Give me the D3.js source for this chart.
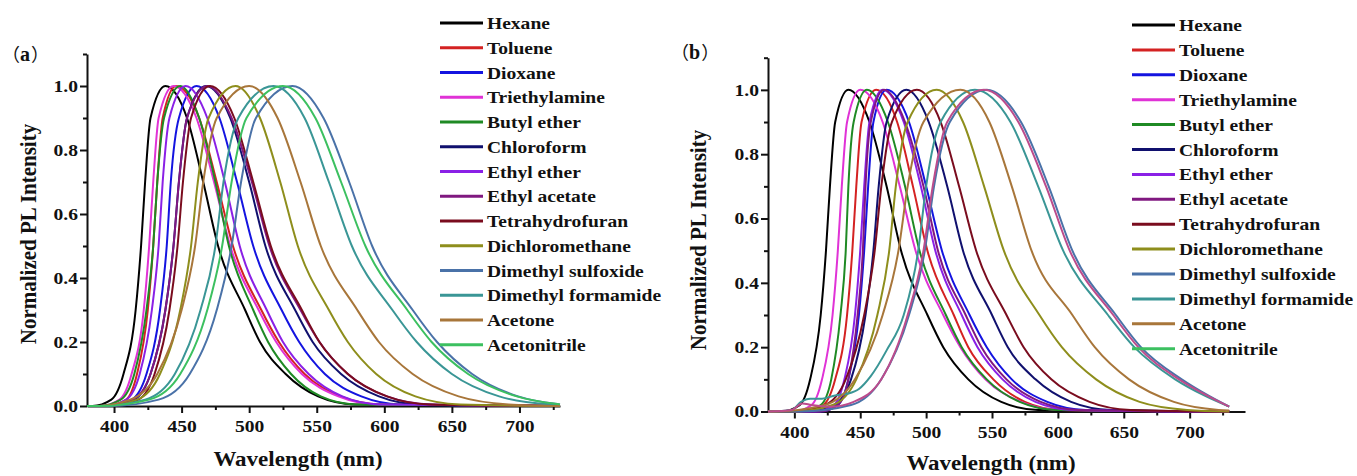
<!DOCTYPE html>
<html lang="en">
<head>
<meta charset="UTF-8">
<title>Normalized PL spectra in solvents</title>
<script src="https://cdn.jsdelivr.net/npm/d3@7"></script>
<style>
  body { margin: 0; background: #fff; }
  svg text { font-family: "Liberation Serif", "Times New Roman", serif; font-weight: bold; fill: #111; }
  svg .cjk { font-family: "Noto Sans CJK SC", sans-serif; font-weight: normal; }
</style>
</head>
<body>
<script>
// solvents, in legend order
const solvents = ["Hexane", "Toluene", "Dioxane", "Triethylamine", "Butyl ether", "Chloroform",
    "Ethyl ether", "Ethyl acetate", "Tetrahydrofuran", "Dichloromethane", "Dimethyl sulfoxide",
    "Dimethyl formamide", "Acetone", "Acetonitrile"]

const colors = ["#000000", "#d42222", "#1414e0", "#e032d6", "#1f8a24", "#10106e", "#8a20e6",
    "#801880", "#7a0c1e", "#8e8e1c", "#4a72a8", "#3a9696", "#a8763a", "#3cc060"]

// in (b) the acetonitrile trace is plotted in a rose colour
const curveColorsB = ["#000000", "#d42222", "#1414e0", "#e032d6", "#1f8a24", "#10106e", "#8a20e6",
    "#801880", "#7a0c1e", "#8e8e1c", "#4a72a8", "#3a9696", "#a8763a", "#bc4c8c"]

const xTicks = [400, 450, 500, 550, 600, 650, 700]
const xMinor = [425, 475, 525, 575, 625, 675, 725]
const yTicks = [0, 0.2, 0.4, 0.6, 0.8, 1.0]
const yMinor = [0.1, 0.3, 0.5, 0.7, 0.9, 1.1]

// [wavelength nm, normalized intensity]
const curvesA = [
    [[380,0],[384,0],[398,0.02],[407,0.1],[416,0.3],[420,0.5],[423,0.7],[427,0.9],[438,1],[454,0.9],[466,0.7],[477,0.5],[497,0.3],[508,0.2],[527,0.1],[551,0.03],[578,0.005],[730,0]],
    [[380,0],[395,0],[409,0.02],[417,0.1],[425,0.3],[429,0.5],[432,0.7],[436,0.9],[446,1],[463,0.9],[476,0.7],[488,0.5],[509,0.3],[522,0.2],[541,0.1],[568,0.03],[597,0.005],[730,0]],
    [[380,0],[395,0],[413,0.02],[424,0.1],[434,0.3],[439,0.5],[442,0.7],[448,0.9],[461,1],[478,0.9],[491,0.7],[503,0.5],[524,0.3],[537,0.2],[556,0.1],[583,0.03],[612,0.005],[730,0]],
    [[380,0],[390,0],[404,0.02],[413,0.1],[422,0.3],[426,0.5],[429,0.7],[433,0.9],[444,1],[461,0.9],[474,0.7],[486,0.5],[507,0.3],[520,0.2],[539,0.1],[566,0.03],[595,0.005],[730,0]],
    [[380,0],[389,0],[405,0.02],[415,0.1],[424,0.3],[429,0.5],[432,0.7],[437,0.9],[449,1],[463,0.9],[475,0.7],[485,0.5],[503,0.3],[514,0.2],[531,0.1],[553,0.03],[579,0.005],[730,0]],
    [[380,0],[396,0],[415,0.02],[427,0.1],[438,0.3],[444,0.5],[448,0.7],[454,0.9],[468,1],[486,0.9],[500,0.7],[512,0.5],[534,0.3],[547,0.2],[568,0.1],[596,0.03],[626,0.005],[730,0]],
    [[380,0],[393,0],[409,0.02],[419,0.1],[428,0.3],[433,0.5],[436,0.7],[441,0.9],[453,1],[469,0.9],[482,0.7],[493,0.5],[513,0.3],[525,0.2],[544,0.1],[569,0.03],[597,0.005],[730,0]],
    [[380,0],[394,0],[414,0.02],[427,0.1],[438,0.3],[444,0.5],[448,0.7],[454,0.9],[469,1],[487,0.9],[502,0.7],[515,0.5],[538,0.3],[552,0.2],[573,0.1],[602,0.03],[635,0.005],[730,0]],
    [[380,0],[399,0],[418,0.02],[430,0.1],[441,0.3],[447,0.5],[451,0.7],[457,0.9],[471,1],[489,0.9],[503,0.7],[516,0.5],[539,0.3],[552,0.2],[573,0.1],[602,0.03],[633,0.005],[730,0]],
    [[380,0],[391,0],[417,0.02],[434,0.1],[449,0.3],[457,0.5],[462,0.7],[470,0.9],[490,1],[508,0.9],[523,0.7],[536,0.5],[559,0.3],[573,0.2],[594,0.1],[623,0.03],[656,0.005],[730,0]],
    [[380,0],[397,0],[433,0.02],[456,0.1],[476,0.3],[487,0.5],[494,0.7],[505,0.9],[532,1],[555,0.9],[574,0.7],[591,0.5],[621,0.3],[639,0.2],[665,0.1],[699,0.03],[728,0.006],[730,0.005]],
    [[380,0],[389,0],[423,0.02],[445,0.1],[464,0.3],[475,0.5],[481,0.7],[492,0.9],[518,1],[541,0.9],[559,0.7],[576,0.5],[606,0.3],[624,0.2],[650,0.1],[685,0.03],[723,0.005],[730,0.003]],
    [[380,0],[386,0],[412,0.02],[432,0.1],[450,0.3],[460,0.5],[466,0.7],[476,0.9],[500,1],[521,0.9],[538,0.7],[553,0.5],[580,0.3],[596,0.2],[621,0.1],[655,0.03],[692,0.005],[730,0]],
    [[380,0],[390,0],[426,0.02],[449,0.1],[469,0.3],[480,0.5],[487,0.7],[498,0.9],[525,1],[549,0.9],[568,0.7],[586,0.5],[617,0.3],[635,0.2],[662,0.1],[698,0.03],[728,0.006],[730,0.005]]
]

// [wavelength nm, normalized intensity]
const curvesB = [
    [[380,0],[390,0],[404,0.02],[412,0.1],[420,0.3],[424,0.5],[427,0.7],[431,0.9],[441,1],[457,0.9],[470,0.7],[481,0.5],[501,0.3],[513,0.2],[532,0.1],[557,0.03],[585,0.005],[730,0]],
    [[380,0],[408,0],[422,0.02],[431,0.1],[440,0.3],[444,0.5],[447,0.7],[451,0.9],[462,1],[478,0.9],[490,0.7],[501,0.5],[521,0.3],[532,0.2],[551,0.1],[575,0.03],[602,0.005],[730,0]],
    [[380,0],[419,0],[433,0.02],[441,0.1],[449,0.3],[453,0.5],[456,0.7],[460,0.9],[470,1],[487,0.9],[500,0.7],[512,0.5],[533,0.3],[546,0.2],[565,0.1],[592,0.03],[621,0.005],[730,0]],
    [[380,0],[399,0],[413,0.02],[421,0.1],[429,0.3],[433,0.5],[436,0.7],[440,0.9],[450,1],[467,0.9],[480,0.7],[492,0.5],[513,0.3],[526,0.2],[545,0.1],[572,0.03],[601,0.005],[730,0]],
    [[380,0],[407,0],[420,0.02],[428,0.1],[435,0.3],[439,0.5],[441,0.7],[445,0.9],[455,1],[471,0.9],[484,0.7],[495,0.5],[515,0.3],[527,0.2],[546,0.1],[571,0.03],[599,0.005],[730,0]],
    [[380,0],[410,0],[430,0.02],[443,0.1],[454,0.3],[460,0.5],[464,0.7],[470,0.9],[485,1],[502,0.9],[516,0.7],[528,0.5],[550,0.3],[562,0.2],[583,0.1],[610,0.03],[640,0.005],[730,0]],
    [[380,0],[416,0],[430,0.02],[438,0.1],[446,0.3],[450,0.5],[453,0.7],[457,0.9],[467,1],[483,0.9],[496,0.7],[507,0.5],[527,0.3],[539,0.2],[558,0.1],[583,0.03],[611,0.005],[730,0]],
    [[380,0],[420,0],[433,0.02],[441,0.1],[448,0.3],[452,0.5],[454,0.7],[458,0.9],[468,1],[484,0.9],[498,0.7],[509,0.5],[530,0.3],[542,0.2],[561,0.1],[587,0.03],[616,0.005],[730,0]],
    [[380,0],[397,0],[423,0.02],[439,0.1],[453,0.3],[461,0.5],[466,0.7],[474,0.9],[493,1],[511,0.9],[525,0.7],[538,0.5],[561,0.3],[574,0.2],[595,0.1],[624,0.03],[655,0.005],[730,0]],
    [[380,0],[400,0],[429,0.02],[447,0.1],[463,0.3],[472,0.5],[477,0.7],[486,0.9],[508,1],[528,0.9],[544,0.7],[559,0.5],[586,0.3],[603,0.2],[629,0.1],[662,0.03],[698,0.005],[730,0]],
    [[380,0],[405,0],[443,0.02],[466,0.1],[487,0.3],[499,0.5],[506,0.7],[518,0.9],[546,1],[572,0.9],[593,0.7],[611,0.5],[644,0.3],[663,0.2],[694,0.1],[714,0.05],[730,0.015]],
    [[380,0],[398,0.005],[405,0.03],[412,0.04],[421,0.04],[431,0.05],[440,0.055],[449,0.07],[458,0.11],[470,0.19],[483,0.3],[494,0.5],[500,0.7],[511,0.9],[537,1],[564,0.9],[585,0.7],[604,0.5],[638,0.3],[658,0.2],[689,0.1],[711,0.05],[730,0.015]],
    [[380,0],[385,0],[423,0.02],[446,0.1],[467,0.3],[479,0.5],[486,0.7],[498,0.9],[526,1],[548,0.9],[565,0.7],[580,0.5],[611,0.3],[628,0.2],[654,0.1],[688,0.03],[722,0.005],[730,0.003]],
    [[380,0],[398,0.005],[406,0.025],[413,0.02],[428,0.015],[445,0.03],[466,0.1],[486,0.3],[498,0.5],[505,0.7],[516,0.9],[544,1],[570,0.9],[591,0.7],[609,0.5],[642,0.3],[661,0.2],[692,0.1],[713,0.05],[730,0.015]]
]

const width = 1357
const height = 476
const stretch = 1.15   // the source figure's lettering is drawn a bit wide

const svg = d3.select("body")
    .append("svg")
    .attr("width", width)
    .attr("height", height)

function wideText(parent, x, y, str, size, anchor) {
    return parent.append("text")
        .attr("transform", `translate(${x},${y}) scale(${stretch},1)`)
        .attr("text-anchor", anchor)
        .style("font-size", size + "px")
        .text(str)
}

function drawPanel(p) {
    const x = d3.scaleLinear().domain(p.xDomain).range([p.left, p.right])
    const y = d3.scaleLinear().domain([0, 1.1]).range([p.bottom, p.top])
    const g = svg.append("g")

    // minor ticks first, then major axes on top
    g.append("g")
        .attr("transform", `translate(0,${p.bottom})`)
        .call(d3.axisBottom(x).tickValues(xMinor).tickSize(4).tickFormat(""))
        .call(a => a.select(".domain").remove())
    g.append("g")
        .attr("transform", `translate(${p.left},0)`)
        .call(d3.axisLeft(y).tickValues(yMinor).tickSize(4).tickFormat(""))
        .call(a => a.select(".domain").remove())

    const xAxis = g.append("g")
        .attr("transform", `translate(0,${p.bottom})`)
        .call(d3.axisBottom(x).tickValues(xTicks).tickSize(7).tickPadding(7).tickSizeOuter(0).tickFormat(d3.format("d")))
    const yAxis = g.append("g")
        .attr("transform", `translate(${p.left},0)`)
        .call(d3.axisLeft(y).tickValues(yTicks).tickSize(7).tickPadding(2).tickSizeOuter(0).tickFormat(d3.format(".1f")))

    g.selectAll(".domain, .tick line").attr("stroke", "#111").attr("stroke-width", 2)
    xAxis.selectAll("text")
        .attr("transform", `scale(${stretch},1)`)
        .style("font-size", "17px")
    yAxis.selectAll("text")
        .attr("x", -9 / stretch)
        .attr("transform", `scale(${stretch},1)`)
        .style("font-size", "17px")
    g.selectAll(".tick text").attr("fill", "#111")

    const line = d3.line()
        .x(d => x(d[0]))
        .y(d => y(d[1]))
        .curve(d3.curveMonotoneX)

    g.selectAll(".trace")
        .data(p.curves)
        .enter()
        .append("path")
        .attr("class", "trace")
        .attr("d", line)
        .attr("fill", "none")
        .attr("stroke", (d, i) => p.curveColors[i])
        .attr("stroke-width", 2)
        .attr("stroke-linejoin", "round")

    // legend
    solvents.forEach((name, i) => {
        const ly = p.legendY + i * p.legendStep
        g.append("line")
            .attr("x1", p.legendX)
            .attr("x2", p.legendX + p.legendLen)
            .attr("y1", ly)
            .attr("y2", ly)
            .attr("stroke", colors[i])
            .attr("stroke-width", 3)
        wideText(g, p.legendX + p.legendLen + 4, ly + 6, name, 17, "start")
    })

    wideText(g, p.xTitleX, p.xTitleY, "Wavelength (nm)", 20, "middle")

    g.append("text")
        .attr("transform", `translate(${p.yTitleX},${p.yTitleY}) rotate(-90) scale(1,1.1)`)
        .attr("text-anchor", "middle")
        .style("font-size", "21px")
        .text("Normalized PL Intensity")

    // panel tag with full-width brackets
    const tag = g.append("text")
        .attr("x", p.tagX)
        .attr("y", p.tagY)
        .style("font-size", "18px")
    tag.append("tspan").attr("class", "cjk").text("（")
    tag.append("tspan").style("font-size", "20px").text(p.tag)
    tag.append("tspan").attr("class", "cjk").attr("dx", 1).text("）")
}

drawPanel({
    tag: "a", tagX: 2, tagY: 61,
    xDomain: [380, 730], left: 87, right: 560, top: 54, bottom: 406,
    curves: curvesA, curveColors: colors,
    legendX: 440, legendY: 23, legendStep: 24.75, legendLen: 43,
    xTitleX: 298, xTitleY: 466,
    yTitleX: 36, yTitleY: 234
})

drawPanel({
    tag: "b", tagX: 671, tagY: 59,
    xDomain: [380, 742], left: 768, right: 1245, top: 57.7, bottom: 411.5,
    curves: curvesB, curveColors: curveColorsB,
    legendX: 1132, legendY: 25, legendStep: 24.9, legendLen: 43,
    xTitleX: 991, xTitleY: 470,
    yTitleX: 706, yTitleY: 240
})
</script>
</body>
</html>
